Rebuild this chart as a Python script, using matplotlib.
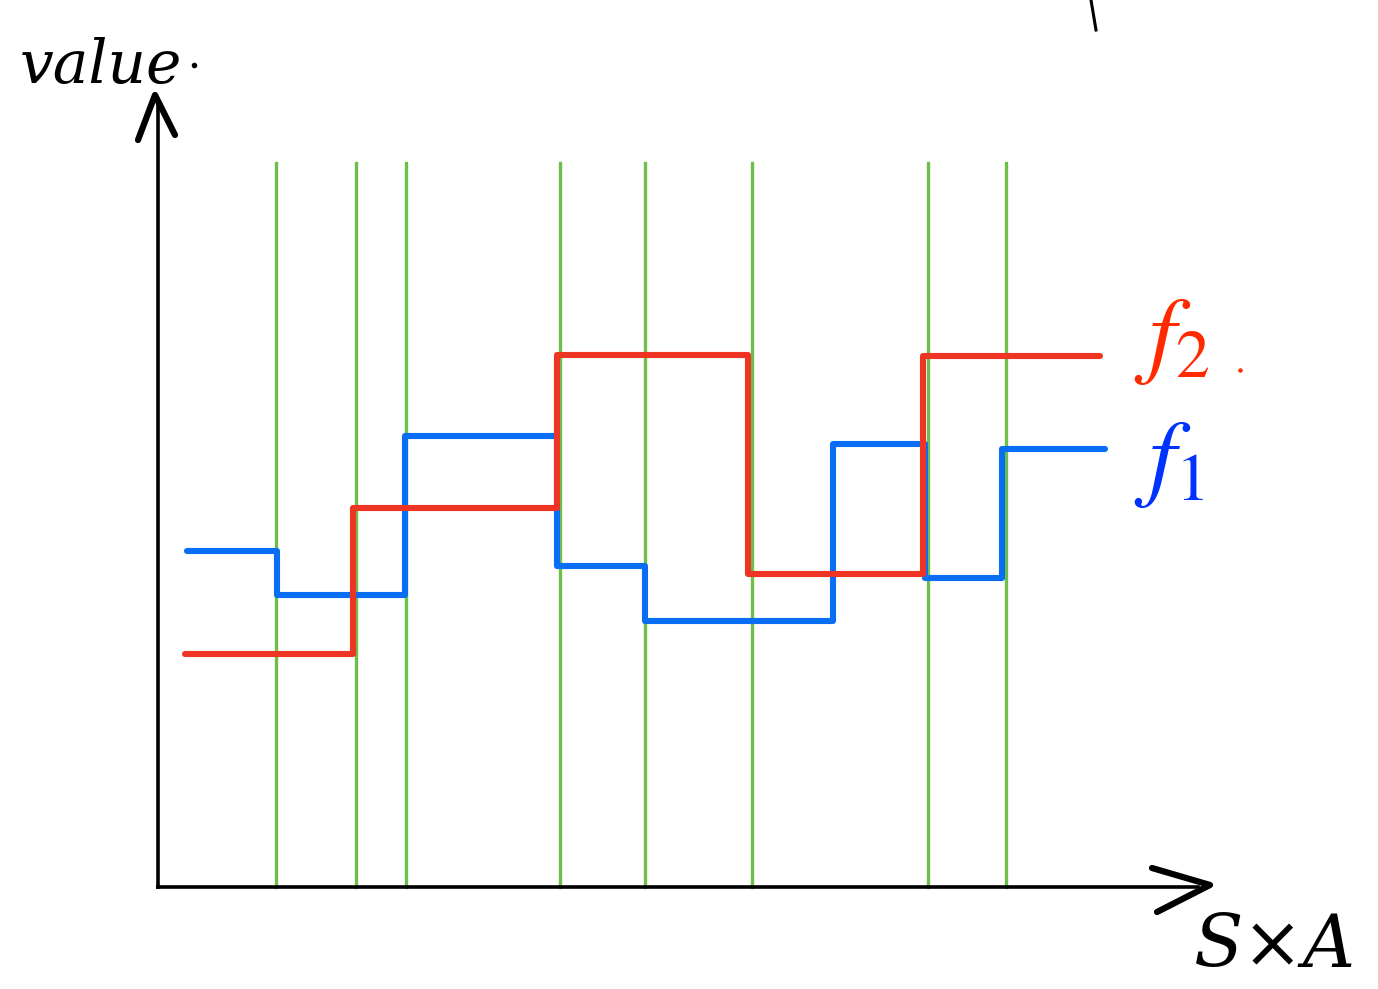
import matplotlib
matplotlib.use("Agg")
import matplotlib.pyplot as plt
import numpy as np

# sketch: two piecewise constant functions over S x A, with partition lines
# units: 1 unit = 100 px, origin at the drawn axes corner

# green partition lines
partition_x = [1.18, 1.98, 2.48, 4.02, 4.87, 5.94, 7.70, 8.48]
partition_top = 7.24

# f1 (blue): breakpoints and the value on each piece
f1_edges = [0.29, 1.19, 2.47, 3.99, 4.87, 6.75, 7.67, 8.44, 9.47]
f1_values = [3.36, 2.92, 4.51, 3.21, 2.66, 4.43, 3.09, 4.38]

# f2 (red)
f2_edges = [0.27, 1.95, 3.99, 5.90, 7.65, 9.42]
f2_values = [2.33, 3.79, 5.32, 3.13, 5.31]

RED = "#ee3524"
BLUE = "#0a6ef5"
GREEN = "#6cc04a"

plt.rcParams["mathtext.fontset"] = "stix"

fig = plt.figure(figsize=(13.78, 9.89), dpi=100)
ax = fig.add_axes([0, 0, 1, 1])
ax.set_xlim(-1.58, 12.20)
ax.set_ylim(-1.02, 8.87)
ax.axis("off")

# partition lines
for x in partition_x:
    ax.plot([x, x], [0, partition_top], color=GREEN, lw=2.4, zorder=1)

# step functions
def draw_steps(edges, values, color):
    xs = np.array(edges)
    ys = np.array(values + [values[-1]])
    ax.step(xs, ys, where="post", color=color, lw=4.4,
            solid_capstyle="round", solid_joinstyle="round", zorder=3)

draw_steps(f1_edges, f1_values, BLUE)
draw_steps(f2_edges, f2_values, RED)

# axes drawn by hand
ax.plot([0, 0], [0, 7.85], color="black", lw=2.6, zorder=2)
ax.plot([0, 10.40], [0, 0], color="black", lw=2.6, zorder=2)
# arrow heads (chevrons)
ax.plot([-0.20, -0.03, 0.17], [7.47, 7.92, 7.52], color="black", lw=4.5,
        solid_capstyle="round", solid_joinstyle="round")
ax.plot([9.94, 10.52, 9.99], [0.19, 0.02, -0.25], color="black", lw=4.5,
        solid_capstyle="round", solid_joinstyle="round")

# labels
ax.text(-1.38, 8.04, "value", fontsize=43, family="DejaVu Serif",
        style="italic", color="black", ha="left", va="baseline")
ax.plot([0.36], [8.22], marker="o", ms=3, color="black")
ax.text(10.36, -0.80, "S\u00d7A", fontsize=52, family="DejaVu Serif",
        style="italic", color="black", ha="left", va="baseline")

ax.text(9.76, 5.22, r"$f_2$", fontsize=70, color="#ff2a00",
        ha="left", va="baseline")
ax.text(9.76, 3.99, r"$f_1$", fontsize=70, color="#0033ff",
        ha="left", va="baseline")
ax.plot([10.82], [5.17], marker="o", ms=2.2, color="#ff2a00")

# stray pen mark at the top
ax.plot([9.33, 9.38], [8.87, 8.57], color="black", lw=2.2)

fig.savefig("out.png", dpi=100)
